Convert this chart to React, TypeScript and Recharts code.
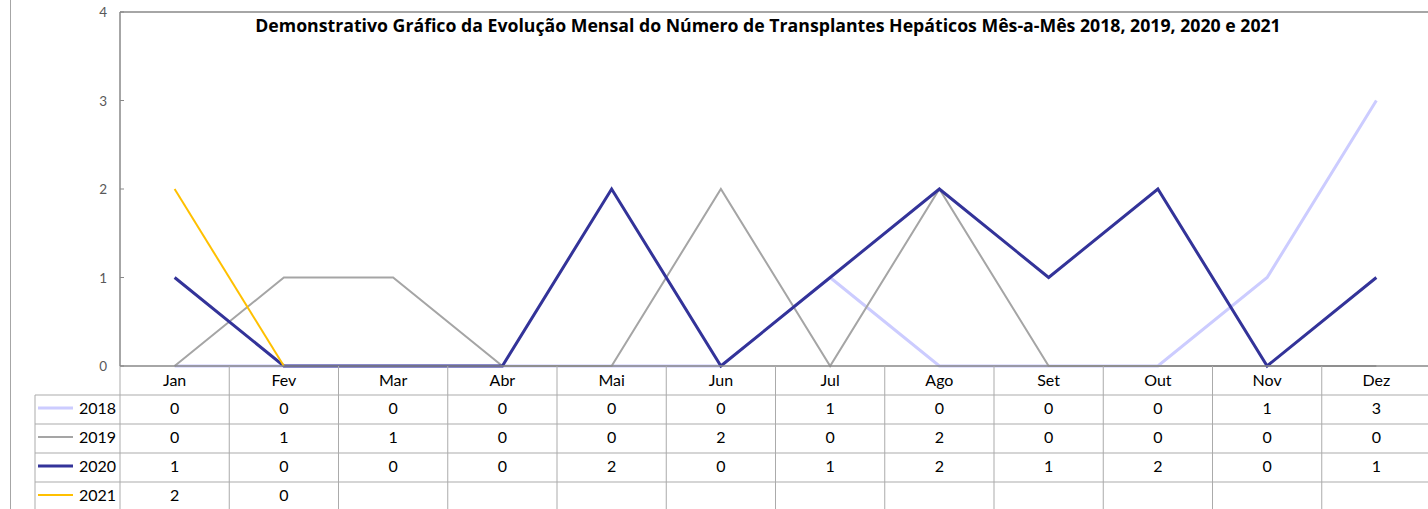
import { CartesianGrid, Customized, Line, LineChart, ReferenceLine, XAxis, YAxis } from "recharts";

const months = ["Jan", "Fev", "Mar", "Abr", "Mai", "Jun", "Jul", "Ago", "Set", "Out", "Nov", "Dez"];
const v2018 = [0, 0, 0, 0, 0, 0, 1, 0, 0, 0, 1, 3];
const v2019 = [0, 1, 1, 0, 0, 2, 0, 2, 0, 0, 0, 0];
const v2020 = [1, 0, 0, 0, 2, 0, 1, 2, 1, 2, 0, 1];
const v2021 = [2, 0];
const yTicks = [0, 1, 2, 3, 4];

const TITLE = "Demonstrativo Gráfico da Evolução Mensal do Número de Transplantes Hepáticos Mês-a-Mês 2018, 2019, 2020 e 2021";

const series = [
  { key: "y2018", label: "2018", color: "#CCCCFF", width: 3, values: v2018 },
  { key: "y2019", label: "2019", color: "#A5A5A5", width: 2, values: v2019 },
  { key: "y2020", label: "2020", color: "#333399", width: 3, values: v2020 },
  { key: "y2021", label: "2021", color: "#FFC000", width: 2, values: v2021 },
];

const data = months.map((m, i) => {
  const row: Record<string, string | number | null> = { month: m };
  series.forEach((s) => {
    row[s.key] = i < s.values.length ? s.values[i] : null;
  });
  return row;
});

// layout
const CHART_W = 1431;
const CHART_H = 509;
const PLOT_LEFT = 120;
const PLOT_W = CHART_W - PLOT_LEFT;
const BAND = PLOT_W / 12;
const AXIS_H = 143;
const ROW_H = 29;
const FONT = "Lato, 'Open Sans', sans-serif";
const GRID = "#ABABAB";
const AXIS = "#898989";

function MonthTick(props: any) {
  const { x, y, payload } = props;
  const i = months.indexOf(payload.value);
  const left = x - BAND / 2;
  return (
    <g>
      <line x1={left} y1={y} x2={left} y2={CHART_H} stroke={GRID} strokeWidth={1} />
      <text x={x} y={y + 13} textAnchor="middle" dominantBaseline="central" fontSize={16} fontFamily={FONT} fill="#000">
        {payload.value}
      </text>
      {series.map((s, r) =>
        i < s.values.length ? (
          <text
            key={s.key}
            x={x}
            y={y + ROW_H * (r + 1) + 12.5}
            textAnchor="middle"
            dominantBaseline="central"
            fontSize={16}
            fontFamily={FONT}
            fill="#000"
          >
            {s.values[i]}
          </text>
        ) : null
      )}
      {i === 0 && (
        <g>
          <line x1={35} y1={y + ROW_H} x2={35} y2={CHART_H} stroke={GRID} strokeWidth={1} />
          {series.map((s, r) => (
            <g key={s.key}>
              <line x1={35} y1={y + ROW_H * (r + 1)} x2={CHART_W} y2={y + ROW_H * (r + 1)} stroke={GRID} strokeWidth={1} />
              <line x1={38} y1={y + ROW_H * (r + 1) + 13} x2={73} y2={y + ROW_H * (r + 1) + 13} stroke={s.color} strokeWidth={s.width} />
              <text
                x={116}
                y={y + ROW_H * (r + 1) + 12.5}
                textAnchor="end"
                dominantBaseline="central"
                fontSize={16}
                fontFamily={FONT}
                fill="#000"
              >
                {s.label}
              </text>
            </g>
          ))}
        </g>
      )}
    </g>
  );
}

function ValueTick(props: any) {
  const { x, y, payload } = props;
  return (
    <g>
      <line x1={x} y1={y} x2={x + 4} y2={y} stroke={AXIS} strokeWidth={1} />
      <text x={x - 13} y={y} textAnchor="end" dominantBaseline="central" fontSize={13.5} fontFamily={FONT} fill="#595959">
        {payload.value}
      </text>
    </g>
  );
}

function Title() {
  return (
    <text
      x={768}
      y={25}
      textAnchor="middle"
      dominantBaseline="central"
      fontSize={17.7}
      fontWeight={700}
      fontFamily="'Open Sans', Lato, sans-serif"
      fill="#000"
    >
      {TITLE}
    </text>
  );
}

export default function App() {
  return (
    <div style={{ position: "absolute", left: 0, top: 0, width: 1428, height: 509, overflow: "hidden", background: "#fff" }}>
      <div style={{ position: "absolute", left: 10, top: 0, width: 1, height: 509, background: "#A6A6A6" }} />
      <LineChart width={CHART_W} height={CHART_H} data={data} margin={{ top: 12, right: 0, bottom: 0, left: 0 }}>
        <CartesianGrid horizontal={false} vertical={false} />
        <XAxis
          dataKey="month"
          height={AXIS_H}
          interval={0}
          tickSize={0}
          tickMargin={0}
          tickLine={false}
          padding={{ left: BAND / 2, right: BAND / 2 }}
          axisLine={{ stroke: AXIS, strokeWidth: 1.5 }}
          tick={(p: any) => <MonthTick {...p} />}
        />
        <YAxis
          width={PLOT_LEFT}
          domain={[0, 4]}
          ticks={yTicks}
          interval={0}
          tickSize={0}
          tickMargin={0}
          tickLine={false}
          axisLine={{ stroke: AXIS, strokeWidth: 1.5 }}
          tick={(p: any) => <ValueTick {...p} />}
        />
        <ReferenceLine y={4} stroke={AXIS} strokeWidth={1.5} />
        {series.map((s) => (
          <Line
            key={s.key}
            type="linear"
            dataKey={s.key}
            stroke={s.color}
            strokeWidth={s.width}
            dot={false}
            activeDot={false}
            isAnimationActive={false}
          />
        ))}
        <Customized component={Title} />
      </LineChart>
    </div>
  );
}
